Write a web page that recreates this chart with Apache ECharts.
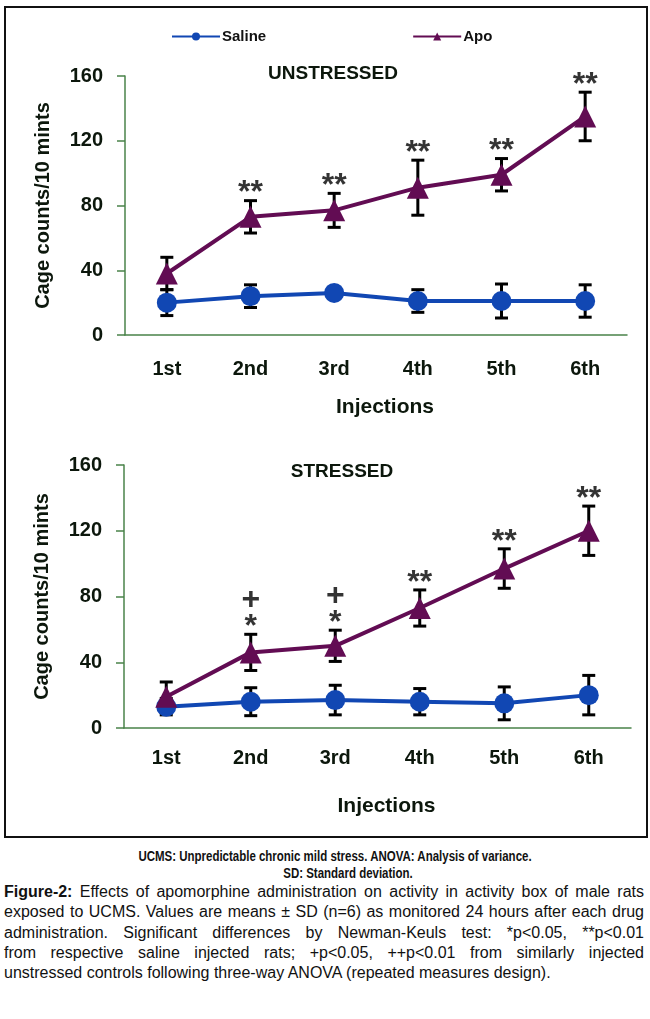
<!DOCTYPE html>
<html><head><meta charset="utf-8">
<script src="https://cdn.jsdelivr.net/npm/echarts@6/dist/echarts.min.js"></script>
<style>
html,body{margin:0;padding:0;background:#fff;width:650px;height:1019px;overflow:hidden;}
#frame{position:absolute;left:4px;top:6px;width:640px;height:828px;border:2.5px solid #111;}
#chart{position:absolute;left:0;top:0;width:650px;height:845px;}
.c1{position:absolute;left:0;width:650px;text-align:center;font-family:"Liberation Sans",sans-serif;font-weight:bold;font-size:14px;line-height:17px;color:#111;transform:scaleX(0.82);}
#cap2{position:absolute;left:4px;top:882px;width:640px;font-family:"Liberation Sans",sans-serif;font-size:16px;line-height:20.3px;color:#111;}
#cap2 div{text-align:justify;text-align-last:justify;white-space:nowrap;}
#cap2 div.last{text-align-last:left;}
</style></head>
<body>
<div id="frame"></div>
<div id="chart"></div>
<div class="c1" style="top:848px;left:10px;">UCMS: Unpredictable chronic mild stress. ANOVA: Analysis of variance.</div>
<div class="c1" style="top:865px;left:23px;">SD: Standard deviation.</div>
<div id="cap2">
<div><b>Figure-2:</b> Effects of apomorphine administration on activity in activity box of male rats</div>
<div>exposed to UCMS. Values are means ± SD (n=6) as monitored 24 hours after each drug</div>
<div>administration. Significant differences by Newman-Keuls test: *p&lt;0.05, **p&lt;0.01</div>
<div>from respective saline injected rats; +p&lt;0.05, ++p&lt;0.01 from similarly injected</div>
<div class="last">unstressed controls following three-way ANOVA (repeated measures design).</div>
</div>
<script>
const categories = ['1st','2nd','3rd','4th','5th','6th'];
const yTicks = [0, 40, 80, 120, 160];
// Unstressed
const unSalineMean = [20, 24, 26, 21, 21, 21];
const unSalineSD   = [8, 7, 3, 7, 10.5, 10];
const unApoMean    = [38, 73, 77, 91, 99, 135];
const unApoSD      = [10, 10, 10.5, 17, 10, 15];
const unSig        = ['', '**', '**', '**', '**', '**'];
// Stressed
const stSalineMean = [13, 16, 17, 16, 15, 20];
const stSalineSD   = [5, 8.5, 9, 8, 10, 12];
const stApoMean    = [19, 46, 50, 73, 97, 120];
const stApoSD      = [9, 11, 9.5, 11, 12, 15];
const stSig        = ['', '+\n*', '+\n*', '**', '**', '**'];
const titles = ['UNSTRESSED', 'STRESSED'];
const yName = 'Cage counts/10 mints';
const xName = 'Injections';

const BLUE = '#1147b3', PURPLE = '#620c53', GREEN = '#4a834a', TXT = '#0c170c';
const FONT = 'Liberation Sans';

function errRender(params, api) {
  const lo = api.coord([api.value(0), api.value(1)]);
  const hi = api.coord([api.value(0), api.value(2)]);
  const w = 6.5;
  const st = {stroke: '#000', lineWidth: 3};
  return {type: 'group', children: [
    {type: 'line', shape: {x1: lo[0], y1: lo[1], x2: hi[0], y2: hi[1]}, style: st},
    {type: 'line', shape: {x1: lo[0]-w, y1: lo[1], x2: lo[0]+w, y2: lo[1]}, style: st},
    {type: 'line', shape: {x1: hi[0]-w, y1: hi[1], x2: hi[0]+w, y2: hi[1]}, style: st}
  ]};
}
function errData(mean, sd) { return mean.map((m, i) => [i, m - sd[i], m + sd[i]]); }
function sigData(mean, sd, sig) {
  const out = [];
  sig.forEach((s, i) => {
    if (s) out.push({value: [i, mean[i] + sd[i]], name: s,
      label: {offset: [0, s.indexOf('\n') >= 0 ? -21 : -7]}});
  });
  return out;
}

const grids = [
  {left: 125, top: 76, width: 502, height: 259},
  {left: 124, top: 465, width: 507, height: 263}
];
function xAx(gi, gap, margin) {
  return {
    type: 'category', gridIndex: gi, data: categories, boundaryGap: true,
    axisLine: {lineStyle: {color: GREEN, width: 1.5}},
    axisTick: {length: 8, lineStyle: {color: GREEN, width: 1.5}},
    axisLabel: {fontFamily: FONT, fontWeight: 'bold', fontSize: 20, color: TXT, margin: margin},
    splitLine: {show: false},
    name: xName, nameLocation: 'middle', nameGap: gap,
    nameTextStyle: {fontFamily: FONT, fontWeight: 'bold', fontSize: 21, color: TXT, padding: [0, 0, 0, 18]}
  };
}
function yAx(gi) {
  return {
    type: 'value', gridIndex: gi, min: yTicks[0], max: yTicks[yTicks.length-1], interval: yTicks[1]-yTicks[0],
    axisLine: {show: true, lineStyle: {color: GREEN, width: 1.5}},
    axisTick: {show: true, length: 8, lineStyle: {color: GREEN, width: 1.5}},
    axisLabel: {fontFamily: FONT, fontWeight: 'bold', fontSize: 20, color: TXT, margin: 22},
    splitLine: {show: false},
    name: yName, nameLocation: 'middle', nameGap: 72,
    nameTextStyle: {fontFamily: FONT, fontWeight: 'bold', fontSize: 20, color: TXT}
  };
}
function lineS(name, gi, data, color, symbol, size) {
  return {
    type: 'line', name: name, xAxisIndex: gi, yAxisIndex: gi, data: data,
    symbol: symbol, symbolSize: size, showSymbol: true, z: 3,
    lineStyle: {color: color, width: 4}, itemStyle: {color: color},
    emphasis: {disabled: true}
  };
}
function errS(gi, mean, sd) {
  return {type: 'custom', xAxisIndex: gi, yAxisIndex: gi, renderItem: errRender,
    data: errData(mean, sd), z: 2, silent: true};
}
function sigS(gi, mean, sd, sig, lh) {
  return {
    type: 'scatter', xAxisIndex: gi, yAxisIndex: gi, symbolSize: 1,
    itemStyle: {color: 'rgba(0,0,0,0)'}, z: 4, silent: true,
    data: sigData(mean, sd, sig),
    label: {show: true, position: 'inside', formatter: '{b}',
      fontFamily: FONT, fontWeight: 'bold', fontSize: 32, lineHeight: lh, color: '#000',
      align: 'center', verticalAlign: 'middle'}
  };
}

const chart = echarts.init(document.getElementById('chart'), null, {renderer: 'canvas'});
chart.setOption({
  animation: false,
  backgroundColor: 'transparent',
  grid: grids,
  legend: {
    data: ['Saline', 'Apo'], left: 166, top: 24, itemWidth: 48, itemHeight: 10, itemGap: 146,
    selectedMode: false,
    textStyle: {fontFamily: FONT, fontWeight: 'bold', fontSize: 15, color: '#111', padding: [0, 0, 0, -3]}
  },
  graphic: [
    {type: 'text', x: 333, y: 74, style: {text: titles[0], font: 'bold 19px "Liberation Sans"', fill: TXT, textAlign: 'center', textVerticalAlign: 'middle'}},
    {type: 'text', x: 342, y: 472, style: {text: titles[1], font: 'bold 19px "Liberation Sans"', fill: TXT, textAlign: 'center', textVerticalAlign: 'middle'}}
  ],
  xAxis: [xAx(0, 62, 24), xAx(1, 68, 20)],
  yAxis: [yAx(0), yAx(1)],
  series: [
    errS(0, unSalineMean, unSalineSD),
    errS(0, unApoMean, unApoSD),
    lineS('Saline', 0, unSalineMean, BLUE, 'circle', 20),
    lineS('Apo', 0, unApoMean, PURPLE, 'triangle', 22),
    sigS(0, unApoMean, unApoSD, unSig, 32),
    errS(1, stSalineMean, stSalineSD),
    errS(1, stApoMean, stApoSD),
    lineS('Saline', 1, stSalineMean, BLUE, 'circle', 20),
    lineS('Apo', 1, stApoMean, PURPLE, 'triangle', 22),
    sigS(1, stApoMean, stApoSD, stSig, 27)
  ]
});
</script>
</body></html>
